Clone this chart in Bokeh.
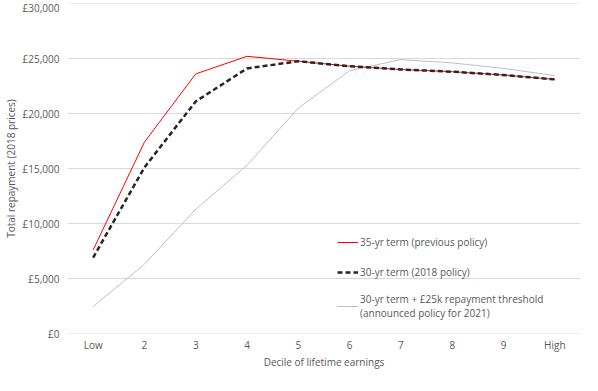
from bokeh.plotting import figure
from bokeh.models import FactorRange, Range1d, CustomJSTickFormatter, Legend, LegendItem, FixedTicker, Span
from bokeh.embed import file_html
from bokeh.resources import INLINE

deciles = ["Low", "2", "3", "4", "5", "6", "7", "8", "9", "High"]
prev_35yr = [7600, 17400, 23600, 25200, 24750, 24300, 24000, 23800, 23500, 23100]
policy_2018 = [6900, 15100, 21100, 24100, 24750, 24300, 24000, 23800, 23500, 23100]
threshold_25k = [2450, 6300, 11300, 15300, 20500, 23900, 24900, 24600, 24100, 23450]
y_ticks = [0, 5000, 10000, 15000, 20000, 25000, 30000]

FONT = "Open Sans"
TXT = "#595959"

p = figure(frame_width=513, frame_height=330, output_backend="svg", toolbar_location=None,
           x_range=FactorRange(factors=deciles), y_range=Range1d(0, 30000),
           min_border_left=64, min_border_right=5, min_border_top=3, min_border_bottom=0)
p.outline_line_color = None
p.background_fill_color = None
p.border_fill_color = None

# horizontal gridlines at the tick values
for t in y_ticks:
    p.add_layout(Span(location=t, dimension="width", line_color="#d9d9d9",
                      line_width=1, level="underlay"))

r_grey = p.line(deciles, threshold_25k, line_color="#bfbfbf", line_width=1)
r_red = p.line(deciles, prev_35yr, line_color="#ff0000", line_width=1)
r_blk = p.line(deciles, policy_2018, line_color="#262626", line_width=2.5, line_dash="5 3")

ticker = FixedTicker(ticks=y_ticks)
p.yaxis.ticker = ticker
p.ygrid.ticker = ticker
p.yaxis.formatter = CustomJSTickFormatter(code="return '\u00a3' + tick.toLocaleString('en-GB');")
for ax in (p.xaxis[0], p.yaxis[0]):
    ax.axis_line_color = None
    ax.major_tick_line_color = None
    ax.minor_tick_line_color = None
    ax.major_tick_in = 0
    ax.major_tick_out = 0
    ax.minor_tick_in = 0
    ax.minor_tick_out = 0
    ax.major_label_text_font = FONT
    ax.major_label_text_font_size = "10px"
    ax.major_label_text_color = TXT
    ax.axis_label_text_font = FONT
    ax.axis_label_text_font_size = "10px"
    ax.axis_label_text_font_style = "normal"
    ax.axis_label_text_color = TXT
p.yaxis.major_label_standoff = 8
p.xaxis.major_label_standoff = 4
p.yaxis.axis_label = "Total repayment (2018 prices)"
p.xaxis.axis_label = "Decile of lifetime earnings"
p.yaxis.axis_label_standoff = 2
p.xaxis.axis_label_standoff = 0

p.xgrid.grid_line_color = None
p.ygrid.grid_line_color = "#d9d9d9"
p.ygrid.grid_line_width = 1

legend = Legend(items=[
    LegendItem(label="35-yr term (previous policy)", renderers=[r_red]),
    LegendItem(label="30-yr term (2018 policy)", renderers=[r_blk]),
    LegendItem(label="30-yr term + \u00a325k repayment threshold\n(announced policy for 2021)", renderers=[r_grey]),
], location=(270, 13))
legend.border_line_color = None
legend.background_fill_alpha = 0
legend.padding = 0
legend.margin = 0
legend.spacing = 10
legend.glyph_width = 21
legend.glyph_height = 20
legend.label_standoff = 2
legend.label_text_font = FONT
legend.label_text_font_size = "10px"
legend.label_text_color = TXT
p.add_layout(legend)

open("out.html", "w").write(file_html(p, INLINE))
